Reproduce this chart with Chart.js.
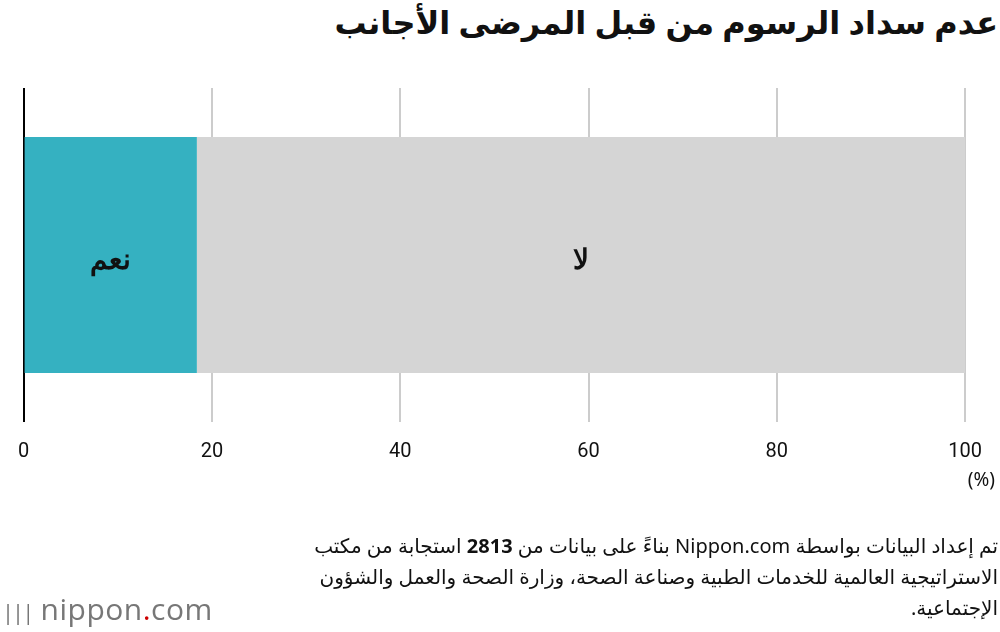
<!DOCTYPE html>
<html lang="ar"><head><meta charset="utf-8">
<script src="https://cdn.jsdelivr.net/npm/chart.js@4"></script>
<style>
body{margin:0;width:1000px;height:632px;background:#fff;position:relative;overflow:hidden;font-family:"Noto Sans","DejaVu Sans",sans-serif}
#t{position:absolute;right:2px;top:0px;font-size:32px;font-weight:bold;direction:rtl;margin:0;color:#111}
#c{position:absolute;left:0;top:0}
#n{position:absolute;right:2px;top:530px;width:745px;font-size:20px;line-height:31px;direction:rtl;text-align:right;color:#111}
#logo{position:absolute;left:2px;top:588px;font-size:30px;color:#777;font-family:"Open Sans",sans-serif;letter-spacing:0.5px}
</style></head><body>
<h1 id="t">عدم سداد الرسوم من قبل المرضى الأجانب</h1>
<canvas id="c" width="1000" height="632"></canvas>
<div id="n">تم إعداد البيانات  بواسطة Nippon.com بناءً على بيانات من <b>2813</b> استجابة من مكتب الاستراتيجية العالمية للخدمات الطبية وصناعة الصحة، وزارة الصحة والعمل والشؤون الإجتماعية.</div>
<div id="logo"><span style="font-size:22px;letter-spacing:-2px">|||</span> nippon<span style="color:#c00">.</span>com</div>
<script>
var categories = [''];
var seriesNames = ['نعم', 'لا'];
var yesValues = [18.4];
var noValues = [81.6];
var xTicks = [0, 20, 40, 60, 80, 100];

var labelPlugin = {
    id: 'labels',
    afterDatasetsDraw: function (chart) {
        var ctx = chart.ctx;
        ctx.save();
        ctx.font = 'bold 28px "Noto Sans", sans-serif';
        ctx.fillStyle = '#111';
        ctx.textAlign = 'center';
        ctx.textBaseline = 'middle';
        chart.data.datasets.forEach(function (ds, i) {
            var bar = chart.getDatasetMeta(i).data[0];
            ctx.fillText(ds.label, (bar.base + bar.x) / 2, bar.y + 6);
        });
        ctx.font = '19px "Noto Sans", sans-serif';
        ctx.textAlign = 'right';
        ctx.fillText('(%)', 995, 481);
        ctx.restore();
    }
};

new Chart(document.getElementById('c'), {
    type: 'bar',
    data: {
        labels: categories,
        datasets: [
            { label: seriesNames[0], data: yesValues, backgroundColor: '#35b1c1' },
            { label: seriesNames[1], data: noValues, backgroundColor: '#d5d5d5' }
        ]
    },
    options: {
        indexAxis: 'y',
        responsive: false,
        animation: false,
        layout: { padding: { left: 20, right: 11, top: 88, bottom: 160 } },
        plugins: { legend: { display: false }, tooltip: { enabled: false } },
        datasets: { bar: { barPercentage: 0.707, categoryPercentage: 1 } },
        scales: {
            x: {
                stacked: true, min: 0, max: 100,
                afterBuildTicks: function (s) { s.ticks = xTicks.map(function (v) { return { value: v }; }); },
                afterFit: function (s) { s.height = 50; },
                border: { display: false },
                grid: {
                    drawTicks: false, lineWidth: 2,
                    color: function (c) { return c.tick && c.tick.value === 0 ? '#000' : '#cccccc'; }
                },
                ticks: { color: '#111', padding: 18, font: { size: 20, family: 'Roboto' } }
            },
            y: { stacked: true, display: false }
        }
    },
    plugins: [labelPlugin]
});
</script>
</body></html>
